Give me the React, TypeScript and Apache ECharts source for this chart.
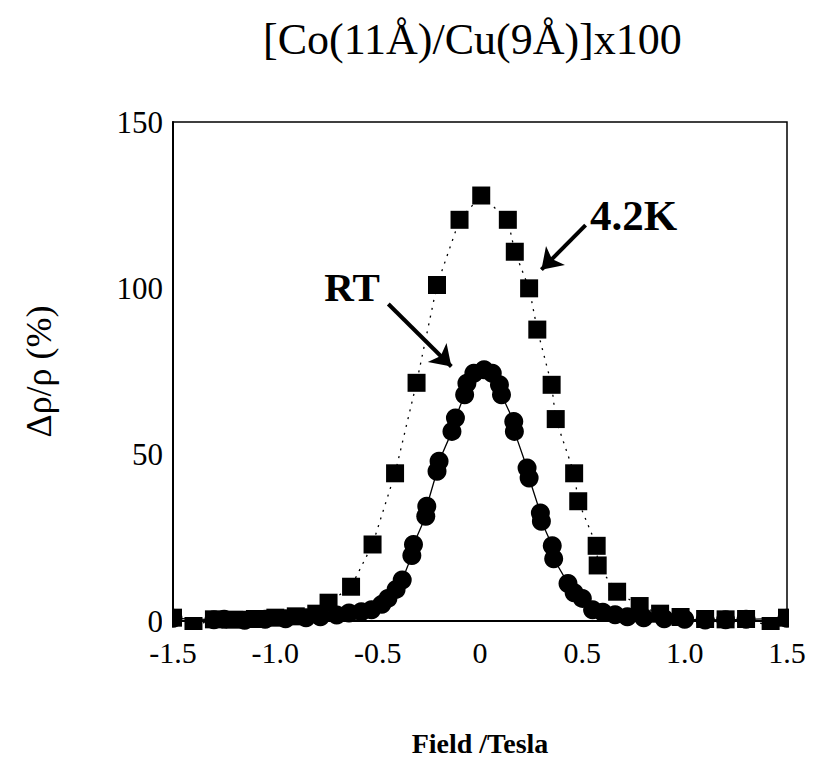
import React, { useEffect, useRef } from "react";
import * as echarts from "echarts";

// 4.2 K data (squares, dotted line)
const k42Field = [-1.5, -1.4, -1.3, -1.2, -1.1, -1.0, -0.9, -0.8, -0.74, -0.63, -0.525, -0.415, -0.31, -0.21, -0.1, 0.006, 0.136, 0.17, 0.24, 0.28, 0.35, 0.37, 0.46, 0.48, 0.57, 0.575, 0.67, 0.78, 0.88, 0.98, 1.1, 1.2, 1.3, 1.42, 1.5];
const k42Value = [1.0, -1.5, 0.5, 0.4, 0.6, 1.0, 1.4, 2.2, 5.5, 10.3, 23, 44.4, 71.6, 101, 120.6, 127.9, 120.6, 111, 100, 87.6, 71, 60.7, 44.4, 36, 22.6, 16.7, 8.8, 4.5, 2.2, 1.2, 0.6, 0.5, 0.6, -1.5, 1.0];

// Room temperature data (circles, solid line)
const rtField = [-1.5, -1.3, -1.25, -1.15, -1.05, -0.95, -0.85, -0.78, -0.7, -0.64, -0.58, -0.53, -0.48, -0.45, -0.41, -0.38, -0.333, -0.325, -0.265, -0.26, -0.21, -0.2, -0.137, -0.12, -0.075, -0.064, -0.03, 0.02, 0.06, 0.095, 0.105, 0.165, 0.168, 0.23, 0.24, 0.295, 0.3, 0.353, 0.36, 0.43, 0.46, 0.5, 0.55, 0.6, 0.66, 0.72, 0.8, 0.9, 1.0, 1.1, 1.2, 1.3, 1.5];
const rtValue = [0.8, 0.4, 0.5, 0.2, 0.5, 0.7, 1.0, 1.3, 1.8, 2.4, 2.8, 3.4, 5.0, 6.8, 9.5, 12.3, 19.7, 23, 31.5, 34.5, 45, 48, 57, 61, 68, 71.5, 74.5, 75.5, 74.5, 71, 68, 60, 57, 46, 43, 32.5, 30, 22.6, 18.7, 11.3, 8.5, 6.8, 3.4, 2.6, 1.9, 1.3, 1.0, 0.7, 0.5, 0.3, 0.4, 0.5, 0.8];

const xTicks = [-1.5, -1.0, -0.5, 0, 0.5, 1.0, 1.5];
const yTicks = [0, 50, 100, 150];

const titleText = "[Co(11Å)/Cu(9Å)]x100";
const xName = "Field /Tesla";
const yName = "Δρ/ρ (%)";

const serif = "'Liberation Serif', 'Times New Roman', serif";

export default function App() {
  const ref = useRef<HTMLDivElement>(null);
  useEffect(() => {
    if (!ref.current) return;
    const chart = echarts.init(ref.current, null, { renderer: "svg" });
    const k42 = k42Field.map((x, i) => [x, k42Value[i]]);
    const rt = rtField.map((x, i) => [x, rtValue[i]]);
    const labelStyle = (size: number) => ({
      show: true,
      position: "inside",
      formatter: "{b}",
      fontFamily: serif,
      fontSize: size,
      fontWeight: "bold",
      color: "#000",
    });
    chart.setOption({
      animation: false,
      backgroundColor: "#fff",
      title: {
        text: titleText,
        left: 258,
        top: 12,
        textStyle: { fontFamily: serif, fontSize: 44, fontWeight: "normal", color: "#000" },
      },
      grid: {
        left: 173,
        right: 26,
        top: 122,
        bottom: 134,
        show: true,
        borderColor: "#000",
        borderWidth: 1.5,
        backgroundColor: "transparent",
      },
      xAxis: {
        type: "value",
        min: xTicks[0],
        max: xTicks[xTicks.length - 1],
        interval: 0.5,
        name: xName,
        nameLocation: "middle",
        nameGap: 108,
        nameTextStyle: { fontFamily: serif, fontSize: 28, fontWeight: "bold", color: "#000" },
        axisLine: { show: true, onZero: false, lineStyle: { color: "#000", width: 2 } },
        axisTick: { show: false },
        splitLine: { show: false },
        axisLabel: {
          fontFamily: serif,
          fontSize: 30,
          lineHeight: 30,
          color: "#000",
          margin: 16,
          formatter: (v: number) => (v === 0 ? "0" : v.toFixed(1)),
        },
      },
      yAxis: {
        type: "value",
        min: yTicks[0],
        max: yTicks[yTicks.length - 1],
        interval: 50,
        name: yName,
        nameLocation: "middle",
        nameGap: 116,
        nameRotate: 90,
        nameTextStyle: { fontFamily: serif, fontSize: 36, color: "#000" },
        axisLine: { show: true, onZero: false, lineStyle: { color: "#000", width: 2 } },
        axisTick: { show: false },
        splitLine: { show: false },
        axisLabel: { fontFamily: serif, fontSize: 31, lineHeight: 22, color: "#000", margin: 10 },
      },
      series: [
        {
          name: "4.2K",
          type: "line",
          data: k42,
          clip: false,
          symbol: "rect",
          symbolSize: 18,
          itemStyle: { color: "#000" },
          lineStyle: { color: "#000", width: 1.3, type: [2, 6] },
          z: 3,
          markLine: {
            silent: true,
            symbol: ["none", "arrow"],
            symbolSize: 20,
            lineStyle: { color: "#000", width: 4, type: "solid" },
            label: { show: false },
            data: [[{ coord: [0.516, 119] }, { coord: [0.3, 105.6] }]],
          },
          markPoint: {
            silent: true,
            symbol: "circle",
            symbolSize: 1,
            itemStyle: { color: "transparent" },
            label: labelStyle(43),
            data: [{ name: "4.2K", coord: [0.75, 121.8] }],
          },
        },
        {
          name: "RT",
          type: "line",
          data: rt,
          clip: false,
          symbol: "circle",
          symbolSize: 19,
          itemStyle: { color: "#000" },
          lineStyle: { color: "#000", width: 1.3 },
          z: 4,
          markLine: {
            silent: true,
            symbol: ["none", "arrow"],
            symbolSize: 20,
            lineStyle: { color: "#000", width: 4, type: "solid" },
            label: { show: false },
            data: [[{ coord: [-0.448, 95.3] }, { coord: [-0.14, 76.5] }]],
          },
          markPoint: {
            silent: true,
            symbol: "circle",
            symbolSize: 1,
            itemStyle: { color: "transparent" },
            label: labelStyle(41),
            data: [{ name: "RT", coord: [-0.625, 100.5] }],
          },
        },
      ],
      graphic: [
        { type: "rect", z: 100, shape: { x: 162, y: 630, width: 640, height: 8 }, style: { fill: "#fff" } },
        { type: "rect", z: 100, shape: { x: 162, y: 595, width: 10, height: 43 }, style: { fill: "#fff" } },
        { type: "rect", z: 100, shape: { x: 789, y: 595, width: 14, height: 43 }, style: { fill: "#fff" } },
      ],
    });
    return () => chart.dispose();
  }, []);
  return (
    <div
      ref={ref}
      style={{ position: "fixed", left: 0, top: 0, width: 813, height: 762 }}
    />
  );
}
